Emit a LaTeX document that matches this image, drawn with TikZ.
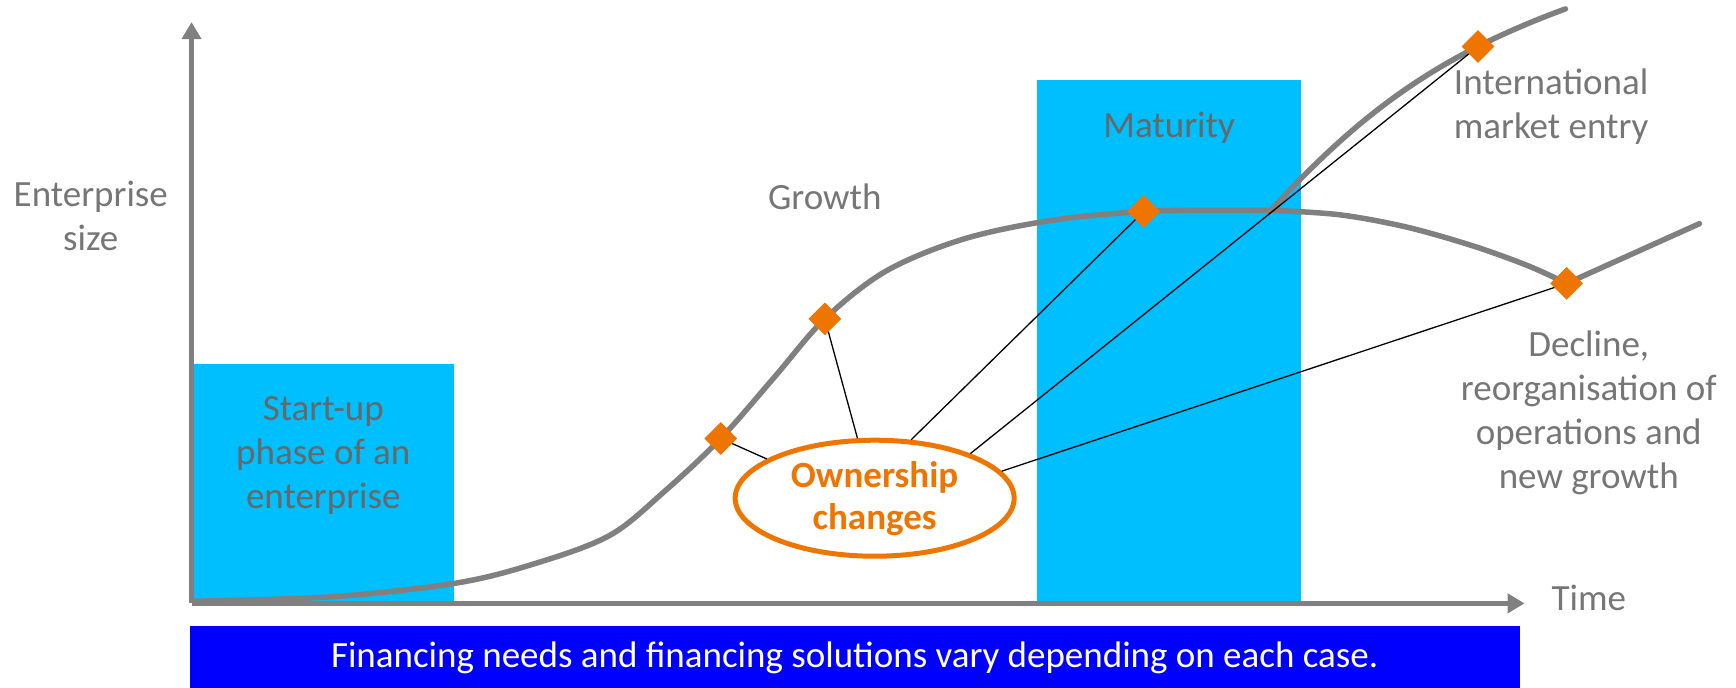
\documentclass[tikz,border=0pt]{standalone}
\usepackage{fontspec}
\setmainfont{Carlito}
\usetikzlibrary{arrows.meta,shapes.geometric}
\definecolor{phase}{HTML}{00BFFF}
\definecolor{bar}{HTML}{0000FF}
\definecolor{own}{HTML}{EE7500}
\definecolor{txt}{HTML}{767676}
\definecolor{txtdark}{HTML}{686868}
\tikzset{
  lbl/.style={text=txt,align=center,inner sep=0pt,font=\fontsize{37}{44}\selectfont},
  curve/.style={draw=gray,line width=5.5pt,line cap=round},
  axis/.style={draw=gray,line width=5.5pt,-{Triangle[length=17pt,width=19pt]}},
  stepmark/.style={diamond,fill=own,inner sep=0pt,minimum width=33pt,minimum height=33pt},
  link/.style={draw=black,line width=1.3pt}
}
\begin{document}
\begin{tikzpicture}[x=1.1071pt,y=-1.1071pt]
  \useasboundingbox (0,0) rectangle (1568,621.4);
  \fill[phase] (175,329) rectangle (410,545);
  \fill[phase] (937,72) rectangle (1175,545);
  \fill[bar] (172,565) rectangle (1373,621.4);
  \coordinate (o) at (173,545);
  \coordinate (ytop) at (173,20);
  \coordinate (xend) at (1377,545);
  \draw[axis] (o) -- (ytop);
  \draw[axis] (o) -- (xend);
  \draw[curve] plot[smooth,tension=0.55] coordinates {(176,543) (300,539) (410,527)
    (480,510) (550,484) (600,444) (651,396) (700,340) (745,288) (800,245)
    (870,216) (950,199) (1033,191) (1100,190) (1150,190)};
  \draw[curve] (1147,191) .. controls (1230,100) and (1300,50) .. (1414,8);
  \draw[curve] plot[smooth,tension=0.55] coordinates {(1150,190) (1210,194)
    (1270,205) (1330,222) (1380,240) (1415,256)} -- (1535,202);
  \coordinate (d1) at (651,396);
  \coordinate (d2) at (745,288);
  \coordinate (d3) at (1033,191);
  \coordinate (d4) at (1335,42);
  \coordinate (d5) at (1415,256);
  \node[ellipse,draw=own,fill=white,line width=5pt,inner sep=0pt,
    minimum width=279pt,minimum height=116pt,text=own,align=center,
    font=\bfseries\fontsize{37}{42}\selectfont] (oc) at (790,450) {Ownership\\changes};
  \draw[link] (oc.160) -- (d1);
  \draw[link] (oc.106) -- (d2);
  \draw[link] (oc.58) -- (d3);
  \draw[link] (oc.25) -- (d4);
  \draw[link] (oc.12) -- (d5);
  \foreach \d in {d1,d2,d3,d4,d5} \node[stepmark] (m\d) at (\d) {};
  \node[lbl] (ysize) at (82,195) {Enterprise\\size};
  \node[lbl] (tlbl) at (1435,540) {Time};
  \node[lbl,text=txtdark] (start) at (292,411) {Start-up\\phase of an\\enterprise};
  \node[lbl] (grow) at (745,178) {Growth};
  \node[lbl,text=txtdark] (mat) at (1056,115) {Maturity};
  \node[lbl] (intl) at (1401,96) {International\\market entry};
  \node[lbl] (decl) at (1435,373) {Decline,\\reorganisation of\\operations and\\new growth};
  \node[lbl,text=white] (note) at (772,594) {Financing needs and financing solutions vary depending on each case.};
\end{tikzpicture}
\end{document}
